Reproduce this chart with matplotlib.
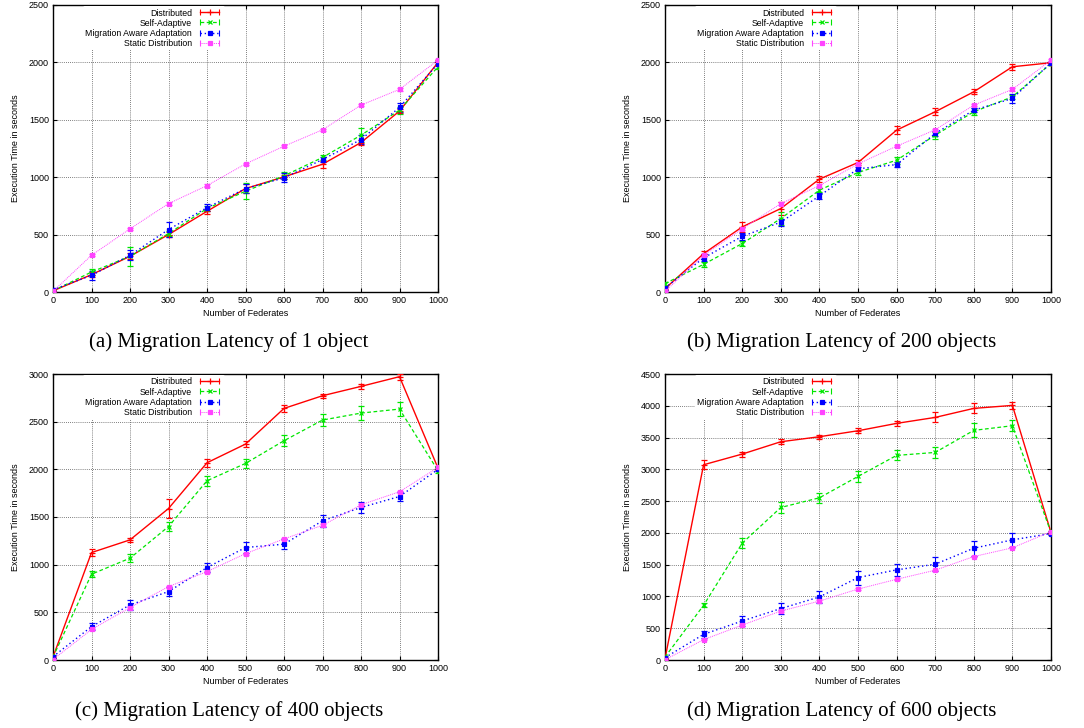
import matplotlib
matplotlib.use("Agg")
import matplotlib.pyplot as plt
from matplotlib.lines import Line2D
from matplotlib.legend_handler import HandlerLine2D, HandlerTuple

plt.rcParams['font.family'] = ['Liberation Sans', 'DejaVu Sans']

federates = [0, 100, 200, 300, 400, 500, 600, 700, 800, 900, 1000]
series_names = ["Distributed", "Self-Adaptive", "Migration Aware Adaptation", "Static Distribution"]

# static distribution is the same in every panel
static_vals = [5, 320, 550, 770, 927, 1116, 1270, 1413, 1628, 1765, 2020]
static_err = [5, 10, 10, 10, 10, 10, 10, 10, 10, 10, 10]

# (a) 1 object
a_dist = [10, 151, 311, 500, 703, 901, 1003, 1113, 1302, 1576, 2000]
a_dist_err = [10, 20, 25, 20, 20, 40, 20, 30, 25, 20, 20]
a_self = [10, 174, 311, 509, 727, 878, 1012, 1172, 1366, 1584, 1962]
a_self_err = [10, 30, 85, 25, 25, 70, 30, 25, 60, 30, 20]
a_mig = [20, 145, 320, 544, 735, 901, 994, 1154, 1328, 1608, 1990]
a_mig_err = [15, 40, 45, 65, 30, 40, 40, 25, 40, 40, 20]

# (b) 200 objects
b_dist = [29, 334, 567, 727, 983, 1128, 1410, 1570, 1744, 1962, 1997]
b_dist_err = [15, 20, 40, 55, 25, 20, 35, 30, 20, 25, 10]
b_self = [73, 241, 422, 640, 887, 1041, 1148, 1366, 1570, 1700, 1990]
b_self_err = [15, 20, 20, 60, 20, 20, 30, 30, 30, 20, 10]
b_mig = [35, 297, 485, 608, 837, 1073, 1110, 1381, 1584, 1686, 1997]
b_mig_err = [15, 30, 30, 30, 25, 20, 20, 25, 20, 40, 10]

# (c) 400 objects
c_dist = [31, 1127, 1260, 1589, 2069, 2265, 2639, 2772, 2870, 2972, 2013]
c_dist_err = [15, 35, 20, 100, 40, 30, 35, 20, 30, 30, 20]
c_self = [31, 900, 1068, 1400, 1880, 2062, 2300, 2517, 2590, 2632, 1985]
c_self_err = [15, 30, 40, 50, 50, 50, 60, 60, 70, 70, 20]
c_mig = [35, 350, 578, 718, 970, 1180, 1215, 1460, 1600, 1715, 2000]
c_mig_err = [15, 40, 50, 50, 50, 60, 50, 60, 60, 50, 20]

# (d) 600 objects
d_dist = [21, 3072, 3240, 3434, 3513, 3607, 3723, 3817, 3959, 4006, 2006]
d_dist_err = [15, 70, 40, 40, 30, 40, 40, 80, 80, 50, 20]
d_self = [47, 861, 1838, 2400, 2552, 2888, 3219, 3266, 3613, 3686, 2006]
d_self_err = [15, 30, 80, 80, 80, 90, 80, 90, 110, 90, 20]
d_mig = [37, 404, 614, 809, 992, 1297, 1418, 1507, 1759, 1890, 1990]
d_mig_err = [15, 60, 80, 80, 100, 110, 90, 110, 120, 110, 20]

captions = ["(a) Migration Latency of 1 object", "(b) Migration Latency of 200 objects",
            "(c) Migration Latency of 400 objects", "(d) Migration Latency of 600 objects"]

styles = [
    dict(color='#ff0000', ls='-', marker='+', ms=4, lw=1.0),
    dict(color='#00e600', ls=(0, (3, 2)), marker='x', ms=3, lw=0.9),
    dict(color='#0000ff', ls=(0, (1, 2)), marker='s', ms=2.5, lw=1.0),
    dict(color='#ff44ff', ls=(0, (1, 1)), marker='s', ms=3.5, lw=0.7),
]

W, H = 1084, 728
fig = plt.figure(figsize=(W / 100, H / 100), dpi=100)

# pixel boxes: left, right, top, bottom
boxes = [(53, 438, 5, 292), (665, 1051, 5, 292), (53, 438, 374, 660), (665, 1051, 374, 660)]
ymaxes = [2500, 2500, 3000, 4500]
panels = [
    [(a_dist, a_dist_err), (a_self, a_self_err), (a_mig, a_mig_err), (static_vals, static_err)],
    [(b_dist, b_dist_err), (b_self, b_self_err), (b_mig, b_mig_err), (static_vals, static_err)],
    [(c_dist, c_dist_err), (c_self, c_self_err), (c_mig, c_mig_err), (static_vals, static_err)],
    [(d_dist, d_dist_err), (d_self, d_self_err), (d_mig, d_mig_err), (static_vals, static_err)],
]
cap_pos = [(229, 342), (842, 342), (229, 711), (842, 711)]

for k in range(4):
    l, r, t, b = boxes[k]
    ax = fig.add_axes([l / W, (H - b) / H, (r - l) / W, (b - t) / H])
    handles = []
    handler_map = {}
    for (vals, err), st, name in zip(panels[k], styles, series_names):
        ax.errorbar(federates, vals, yerr=err, color=st['color'], ls=st['ls'], lw=st['lw'],
                    marker=st['marker'], ms=st['ms'], mew=0.9, elinewidth=0.8,
                    capsize=2, capthick=0.8, zorder=3)
        caps = Line2D([], [], color=st['color'], ls=st['ls'], lw=st['lw'], marker='|', ms=5, mew=0.8)
        mid = Line2D([], [], color=st['color'], ls='none', marker=st['marker'], ms=st['ms'], mew=0.9)
        handler_map[caps] = HandlerLine2D(numpoints=2)
        handler_map[mid] = HandlerLine2D(numpoints=1)
        handles.append((caps, mid))
    handler_map[tuple] = HandlerTuple(ndivide=1, pad=0)
    ax.set_xlim(0, 1000)
    ax.set_ylim(0, ymaxes[k])
    ax.set_xticks(federates)
    ax.set_yticks(range(0, ymaxes[k] + 1, 500))
    ax.grid(True, color='#555555', ls=(0, (1, 1.5)), lw=0.6)
    ax.tick_params(labelsize=6.5, direction='in', length=3, top=True, right=True, pad=3)
    for sp in ax.spines.values():
        sp.set_linewidth(1.0)
    ax.set_xlabel("Number of Federates", fontsize=6.5, labelpad=3)
    ax.set_ylabel("Execution Time in seconds", fontsize=6.5, labelpad=6)
    leg = ax.legend(handles, series_names, handler_map=handler_map, loc='upper left',
                    bbox_to_anchor=(0.075, 1.0), markerfirst=False, fontsize=6.3,
                    handlelength=2.8, handletextpad=0.6, labelspacing=0.12,
                    frameon=True, borderpad=0.3, borderaxespad=0.1)
    leg.get_frame().set_edgecolor('none')
    leg.get_frame().set_facecolor('white')
    leg.get_frame().set_alpha(1)
    leg.set_zorder(5)
    cx, cy = cap_pos[k]
    fig.text(cx / W, (H - cy) / H, captions[k], ha='center', va='center',
             fontsize=15, family='Liberation Serif')

fig.savefig("out.png", dpi=100)
